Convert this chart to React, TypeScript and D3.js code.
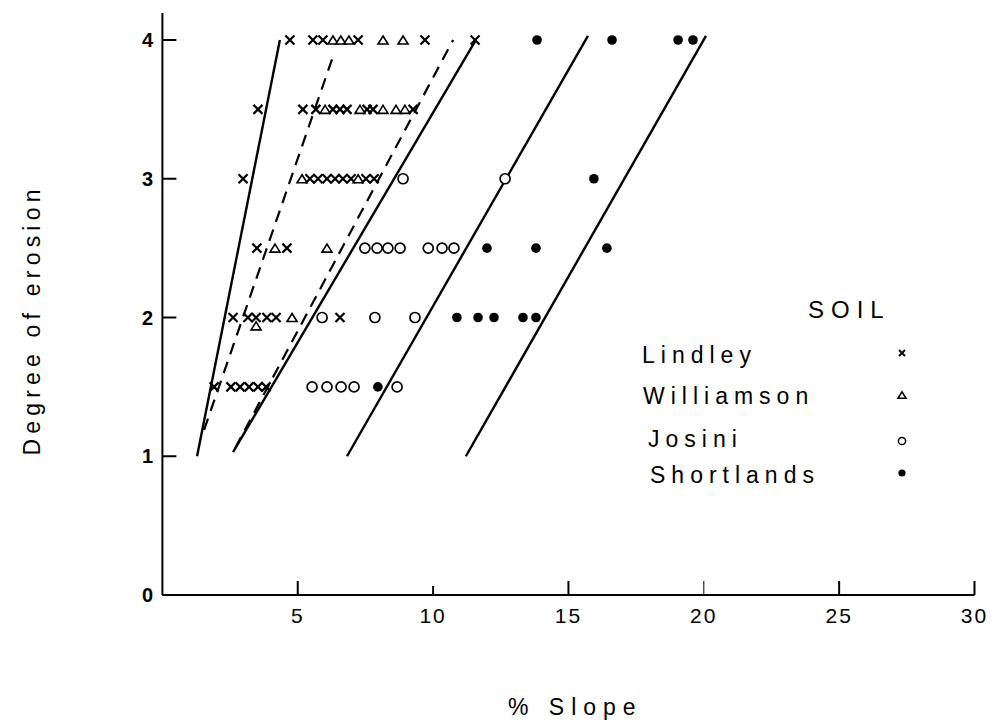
import React from 'react';
import * as d3 from 'd3';

// Slope (%) vs degree of erosion, four soils
const lindley: [number, number][] = [
    [4.71, 4], [5.56, 4], [5.93, 4], [7.23, 4], [9.70, 4], [11.55, 4],
    [3.53, 3.5], [5.19, 3.5], [5.67, 3.5], [6.30, 3.5], [6.56, 3.5], [6.82, 3.5], [7.56, 3.5], [7.78, 3.5], [9.26, 3.5],
    [2.98, 3], [5.45, 3], [5.75, 3], [6.08, 3], [6.38, 3], [6.67, 3], [6.97, 3], [7.52, 3], [7.82, 3],
    [3.49, 2.5], [4.60, 2.5],
    [2.61, 2], [3.16, 2], [3.46, 2], [3.86, 2], [4.20, 2], [6.56, 2],
    [1.91, 1.5], [2.53, 1.5], [2.87, 1.5], [3.20, 1.5], [3.53, 1.5], [3.83, 1.5],
];
const williamson: [number, number][] = [
    [6.30, 4], [6.59, 4], [6.89, 4], [8.15, 4], [8.89, 4],
    [6.01, 3.5], [7.30, 3.5], [8.15, 3.5], [8.63, 3.5], [8.96, 3.5],
    [5.16, 3], [7.23, 3],
    [4.16, 2.5], [6.08, 2.5],
    [3.46, 1.94], [4.79, 2],
];
const josini: [number, number][] = [
    [8.89, 3], [12.66, 3],
    [7.48, 2.5], [7.93, 2.5], [8.33, 2.5], [8.78, 2.5], [9.82, 2.5], [10.33, 2.5], [10.77, 2.5],
    [5.90, 2], [7.85, 2], [9.33, 2],
    [5.53, 1.5], [6.08, 1.5], [6.60, 1.5], [7.08, 1.5], [8.67, 1.5],
];
const shortlands: [number, number][] = [
    [13.84, 4], [16.61, 4], [19.05, 4], [19.60, 4],
    [15.94, 3],
    [11.99, 2.5], [13.80, 2.5], [16.42, 2.5],
    [10.88, 2], [11.66, 2], [12.25, 2], [13.32, 2], [13.80, 2],
    [7.96, 1.5],
];

// fitted lines (slope, degree) end points
const solidLines: [number, number][][] = [
    [[1.28, 1.0], [4.34, 4.0]],
    [[2.61, 1.03], [11.55, 3.99]],
    [[6.82, 1.0], [15.72, 4.03]],
    [[11.21, 1.0], [20.08, 4.03]],
];
const dashedLines: [number, number][][] = [
    [[1.54, 1.19], [6.30, 3.88]],
    [[2.69, 1.06], [10.74, 4.0]],
];

const xTicks = [5, 10, 15, 20, 25, 30];
const yTicks = [0, 1, 2, 3, 4];
const legendItems = ['Lindley', 'Williamson', 'Josini', 'Shortlands'];

const FONT = "'Liberation Sans', Arial, Helvetica, sans-serif";

function Cross({ x, y, s = 4.5, w = 2.2 }: { x: number; y: number; s?: number; w?: number }) {
    return (
        <path d={`M${x - s},${y - s}L${x + s},${y + s}M${x - s},${y + s}L${x + s},${y - s}`}
            stroke="#000" strokeWidth={w} fill="none" />
    );
}

function Tri({ x, y, s = 5 }: { x: number; y: number; s?: number }) {
    const h = s * 1.6;
    return (
        <path d={`M${x},${y - h / 2}L${x + s},${y + h / 2}L${x - s},${y + h / 2}Z`}
            stroke="#000" strokeWidth={1.6} fill="#fff" />
    );
}

export default function App() {
    const x = d3.scaleLinear().domain([0, 30]).range([162.4, 974.5]);
    const y = d3.scaleLinear().domain([0, 4]).range([595, 40]);
    const line = d3.line<[number, number]>().x(d => x(d[0])).y(d => y(d[1]));

    const legendY = [363, 404, 447, 483];
    const legendX = [642, 643, 648, 650];
    const markX = 902;

    return (
        <svg width={994} height={722} style={{ position: 'absolute', left: 0, top: 0, background: '#fff' }}
            fontFamily={FONT}>
            {/* axes */}
            <line x1={x(0)} y1={13} x2={x(0)} y2={y(0)} stroke="#000" strokeWidth={2} />
            <line x1={x(0)} y1={y(0)} x2={x(30)} y2={y(0)} stroke="#000" strokeWidth={2} />
            {xTicks.map(t => (
                <g key={t}>
                    <line x1={x(t)} x2={x(t)} y1={y(0)} y2={y(0) - (t === 10 ? 9 : 14)} stroke="#000" strokeWidth={t === 20 ? 1 : 2} />
                    <text x={x(t)} y={623} textAnchor="middle" fontSize={21} letterSpacing={2}>{t}</text>
                </g>
            ))}
            {yTicks.map(t => (
                <g key={t}>
                    <line x1={x(0)} x2={x(0) + 14} y1={y(t)} y2={y(t)} stroke="#000" strokeWidth={2} />
                    <text x={153} y={y(t) + 7} textAnchor="end" fontSize={20} fontWeight="bold">{t}</text>
                </g>
            ))}
            <text transform="translate(40,320) rotate(-90)" textAnchor="middle" fontSize={23} letterSpacing={5.2}>
                Degree of erosion
            </text>
            <text x={508} y={715} fontSize={23} letterSpacing={7}>% Slope</text>

            {/* fitted lines */}
            {solidLines.map((l, i) => (
                <path key={'s' + i} d={line(l) || ''} stroke="#000" strokeWidth={2.4} fill="none" />
            ))}
            {dashedLines.map((l, i) => (
                <path key={'d' + i} d={line(l) || ''} stroke="#000" strokeWidth={2.2} fill="none" strokeDasharray="12,8" />
            ))}

            {/* points */}
            {lindley.map((d, i) => <Cross key={'l' + i} x={x(d[0])} y={y(d[1])} />)}
            {williamson.map((d, i) => <Tri key={'w' + i} x={x(d[0])} y={y(d[1])} />)}
            {josini.map((d, i) => (
                <circle key={'j' + i} cx={x(d[0])} cy={y(d[1])} r={5} fill="#fff" stroke="#000" strokeWidth={1.7} />
            ))}
            {shortlands.map((d, i) => (
                <circle key={'s' + i} cx={x(d[0])} cy={y(d[1])} r={4.8} fill="#000" />
            ))}

            {/* legend */}
            <text x={808} y={318} fontSize={24} letterSpacing={7}>SOIL</text>
            {legendItems.map((name, i) => (
                <text key={name} x={legendX[i]} y={legendY[i]} fontSize={23} letterSpacing={6}>{name}</text>
            ))}
            <Cross x={markX} y={353} s={3} w={1.8} />
            <Tri x={markX} y={395} s={4} />
            <circle cx={markX} cy={441} r={3.6} fill="#fff" stroke="#000" strokeWidth={1.5} />
            <circle cx={markX} cy={473} r={3.6} fill="#000" />
        </svg>
    );
}
